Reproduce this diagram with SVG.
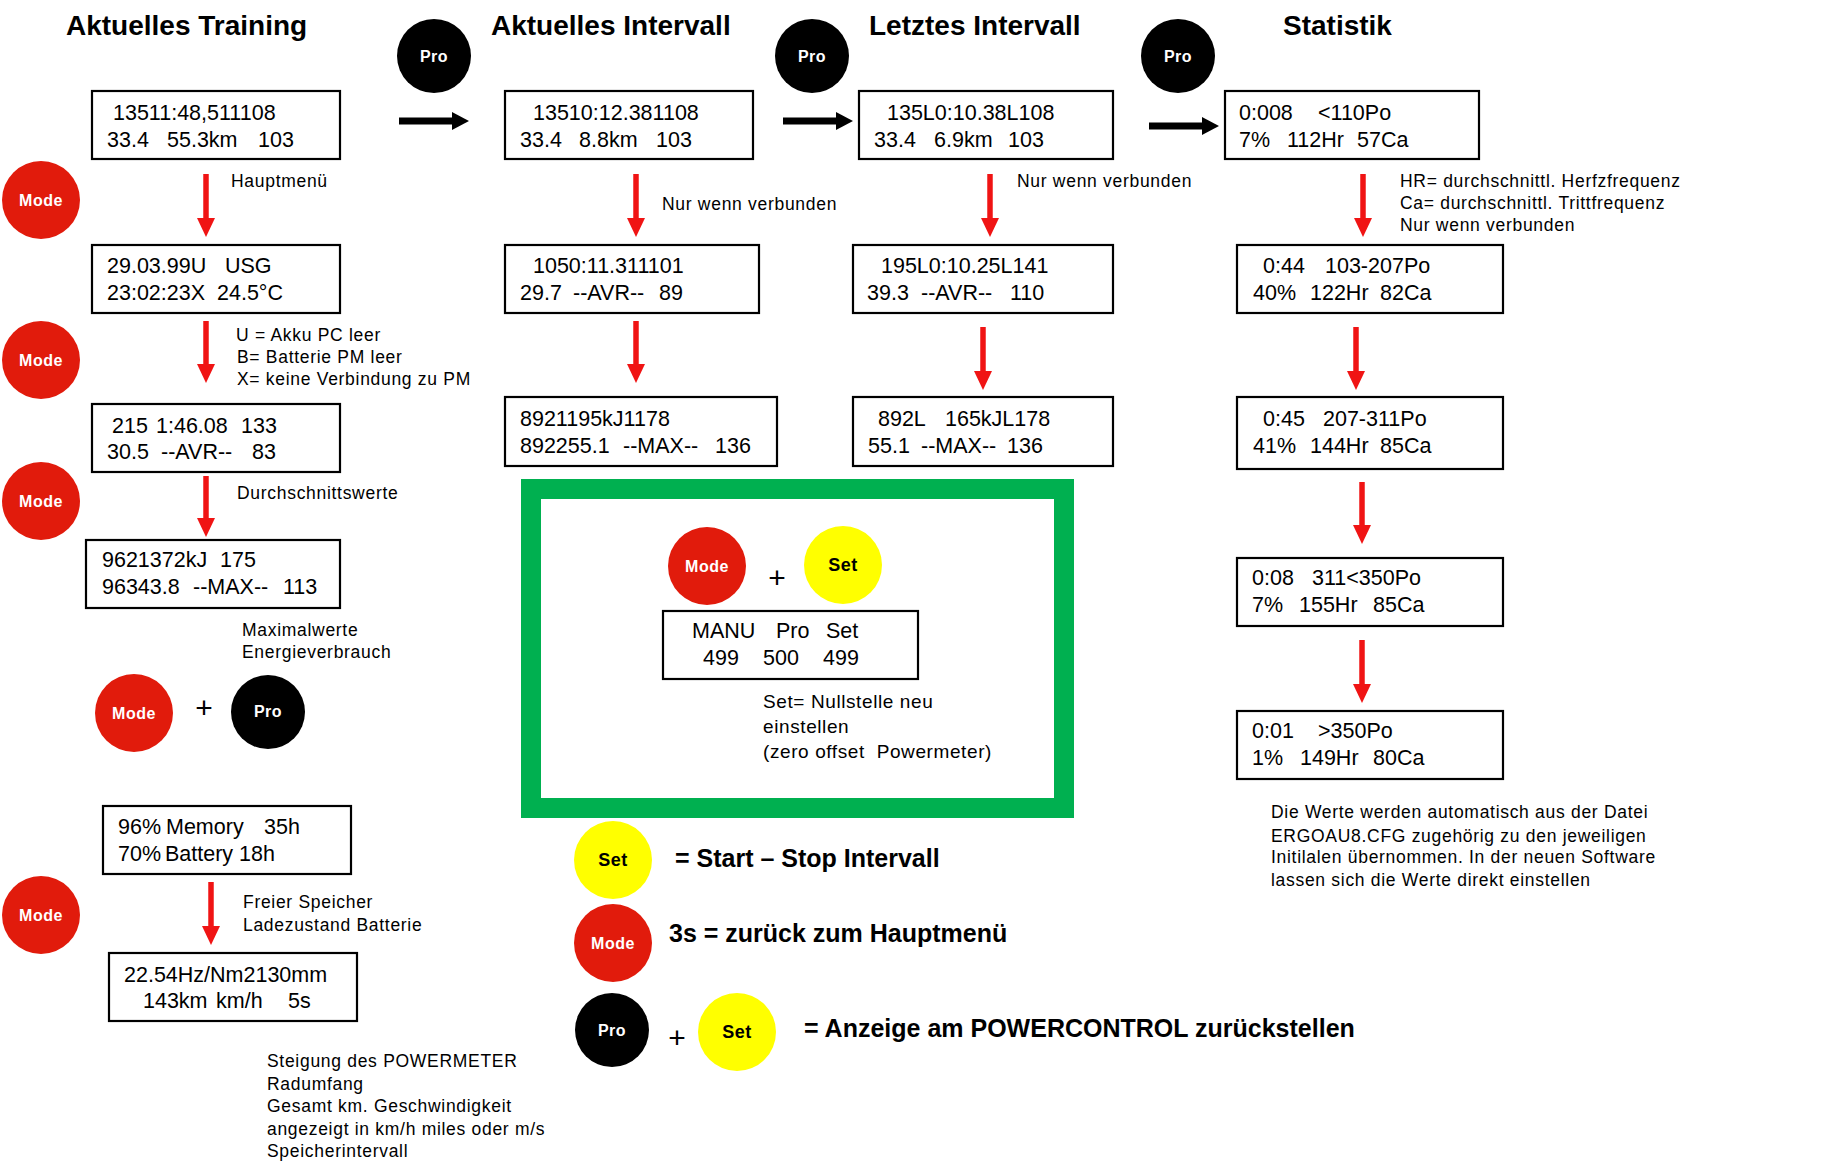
<svg xmlns="http://www.w3.org/2000/svg" width="1835" height="1172" viewBox="0 0 1835 1172">
<defs>
<style>
.bg{fill:#fff}
.box{fill:#fff;stroke:#000;stroke-width:2.2}
.bt{font-family:"Liberation Sans",Arial,sans-serif;font-size:21.5px;fill:#000}
.lbl{font-family:"Liberation Sans",Arial,sans-serif;font-size:17.5px;letter-spacing:0.7px;fill:#000}
.lg{font-size:19px;letter-spacing:0.6px}
.title{font-family:"Liberation Sans",Arial,sans-serif;font-size:28px;font-weight:bold;fill:#000}
.big{font-family:"Liberation Sans",Arial,sans-serif;font-size:25px;font-weight:bold;fill:#000}
.plus{font-family:"Liberation Sans",Arial,sans-serif;font-size:30px;fill:#000;text-anchor:middle}
.mode{fill:#E11B0C}
.pro{fill:#000}
.set{fill:#FFFF00}
.bl{font-family:"Liberation Sans",Arial,sans-serif;font-size:16px;font-weight:bold;text-anchor:middle;letter-spacing:0.5px}
.wl{fill:#fff}
.kl{fill:#000;font-size:18px}
.ra{stroke:#F01414;stroke-width:5.5;fill:none;marker-end:url(#rh)}
.ka{stroke:#000;stroke-width:7;fill:none;marker-end:url(#kh)}
.frame{fill:none;stroke:#00B050;stroke-width:20}
</style>
<marker id="rh" markerUnits="userSpaceOnUse" markerWidth="20" markerHeight="20" refX="0" refY="9" orient="auto" overflow="visible">
<path d="M0,0 L19,9 L0,18 z" fill="#F01414"/>
</marker>
<marker id="kh" markerUnits="userSpaceOnUse" markerWidth="20" markerHeight="20" refX="0" refY="9" orient="auto" overflow="visible">
<path d="M0,0 L17,9 L0,18 z" fill="#000"/>
</marker>
</defs>
<rect class="bg" x="0" y="0" width="1835" height="1172"/>

<g id="titles">
<text class="title" x="66" y="35">Aktuelles Training</text>
<text class="title" x="491" y="35">Aktuelles Intervall</text>
<text class="title" x="869" y="35">Letztes Intervall</text>
<text class="title" x="1283" y="35">Statistik</text>
</g>

<g id="connectors">
<line class="ka" x1="399" y1="121" x2="452" y2="121"/>
<line class="ka" x1="783" y1="121" x2="836" y2="121"/>
<line class="ka" x1="1149" y1="126" x2="1202" y2="126"/>
<line class="ra" x1="206" y1="174" x2="206" y2="218"/>
<line class="ra" x1="206" y1="321" x2="206" y2="364"/>
<line class="ra" x1="206" y1="476" x2="206" y2="518"/>
<line class="ra" x1="211" y1="882" x2="211" y2="926"/>
<line class="ra" x1="636" y1="174" x2="636" y2="218"/>
<line class="ra" x1="636" y1="321" x2="636" y2="364"/>
<line class="ra" x1="990" y1="174" x2="990" y2="218"/>
<line class="ra" x1="983" y1="327" x2="983" y2="371"/>
<line class="ra" x1="1363" y1="174" x2="1363" y2="218"/>
<line class="ra" x1="1356" y1="327" x2="1356" y2="371"/>
<line class="ra" x1="1362" y1="482" x2="1362" y2="525"/>
<line class="ra" x1="1362" y1="640" x2="1362" y2="684"/>
</g>

<g id="btn-pro-1"><circle class="pro" cx="434" cy="56" r="37"/><text class="bl wl" x="434" y="62">Pro</text></g>
<g id="btn-pro-2"><circle class="pro" cx="812" cy="56" r="37"/><text class="bl wl" x="812" y="62">Pro</text></g>
<g id="btn-pro-3"><circle class="pro" cx="1178" cy="56" r="37"/><text class="bl wl" x="1178" y="62">Pro</text></g>

<g id="btn-mode-1"><circle class="mode" cx="41" cy="200" r="39"/><text class="bl wl" x="41" y="206">Mode</text></g>
<g id="btn-mode-2"><circle class="mode" cx="41" cy="360" r="39"/><text class="bl wl" x="41" y="366">Mode</text></g>
<g id="btn-mode-3"><circle class="mode" cx="41" cy="501" r="39"/><text class="bl wl" x="41" y="507">Mode</text></g>
<g id="btn-mode-4"><circle class="mode" cx="41" cy="915" r="39"/><text class="bl wl" x="41" y="921">Mode</text></g>

<g id="combo-mode-pro">
<circle class="mode" cx="134" cy="713" r="39"/><text class="bl wl" x="134" y="719">Mode</text>
<text class="plus" x="204" y="718">+</text>
<circle class="pro" cx="268" cy="712" r="37"/><text class="bl wl" x="268" y="717">Pro</text>
</g>

<g id="at-1">
<rect class="box" x="92" y="91" width="248" height="68"/>
<text class="bt" x="113" y="120">13511:48,511108</text>
<text class="bt" y="147"><tspan x="107">33.4</tspan><tspan x="167">55.3km</tspan><tspan x="258">103</tspan></text>
</g>
<g id="at-2">
<rect class="box" x="92" y="245" width="248" height="68"/>
<text class="bt" y="273"><tspan x="107">29.03.99U</tspan><tspan x="225">USG</tspan></text>
<text class="bt" y="300"><tspan x="107">23:02:23X</tspan><tspan x="217">24.5°C</tspan></text>
</g>
<g id="at-3">
<rect class="box" x="92" y="404" width="248" height="68"/>
<text class="bt" y="433"><tspan x="112">215</tspan><tspan x="156">1:46.08</tspan><tspan x="241">133</tspan></text>
<text class="bt" y="459"><tspan x="107">30.5</tspan><tspan x="161">--AVR--</tspan><tspan x="252">83</tspan></text>
</g>
<g id="at-4">
<rect class="box" x="86" y="540" width="254" height="68"/>
<text class="bt" y="567"><tspan x="102">9621372kJ</tspan><tspan x="220">175</tspan></text>
<text class="bt" y="594"><tspan x="102">96343.8</tspan><tspan x="193">--MAX--</tspan><tspan x="283">113</tspan></text>
</g>
<g id="at-5">
<rect class="box" x="103" y="806" width="248" height="68"/>
<text class="bt" y="834"><tspan x="118">96%</tspan><tspan x="166">Memory</tspan><tspan x="264">35h</tspan></text>
<text class="bt" y="861"><tspan x="118">70%</tspan><tspan x="165">Battery</tspan><tspan x="239">18h</tspan></text>
</g>
<g id="at-6">
<rect class="box" x="109" y="953" width="248" height="68"/>
<text class="bt" x="124" y="982">22.54Hz/Nm2130mm</text>
<text class="bt" y="1008"><tspan x="143">143km</tspan><tspan x="216">km/h</tspan><tspan x="288">5s</tspan></text>
</g>

<g id="labels-training">
<text class="lbl" x="231" y="187">Hauptmenü</text>
<text class="lbl" x="236" y="341">U = Akku PC leer</text>
<text class="lbl" x="237" y="363">B= Batterie PM leer</text>
<text class="lbl" x="237" y="385">X= keine Verbindung zu PM</text>
<text class="lbl" x="237" y="499">Durchschnittswerte</text>
<text class="lbl" x="242" y="636">Maximalwerte</text>
<text class="lbl" x="242" y="658">Energieverbrauch</text>
<text class="lbl" x="243" y="908">Freier Speicher</text>
<text class="lbl" x="243" y="931">Ladezustand Batterie</text>
<text class="lbl" x="267" y="1067">Steigung des POWERMETER</text>
<text class="lbl" x="267" y="1090">Radumfang</text>
<text class="lbl" x="267" y="1112">Gesamt km. Geschwindigkeit</text>
<text class="lbl" x="267" y="1135">angezeigt in km/h miles oder m/s</text>
<text class="lbl" x="267" y="1157">Speicherintervall</text>
</g>

<g id="ai-1">
<rect class="box" x="505" y="91" width="248" height="68"/>
<text class="bt" x="533" y="120">13510:12.381108</text>
<text class="bt" y="147"><tspan x="520">33.4</tspan><tspan x="579">8.8km</tspan><tspan x="656">103</tspan></text>
</g>
<g id="ai-2">
<rect class="box" x="505" y="245" width="254" height="68"/>
<text class="bt" x="533" y="273">1050:11.311101</text>
<text class="bt" y="300"><tspan x="520">29.7</tspan><tspan x="573">--AVR--</tspan><tspan x="659">89</tspan></text>
</g>
<g id="ai-3">
<rect class="box" x="505" y="397" width="272" height="69"/>
<text class="bt" x="520" y="426">8921195kJ1178</text>
<text class="bt" y="453"><tspan x="520">892255.1</tspan><tspan x="623">--MAX--</tspan><tspan x="715">136</tspan></text>
</g>
<text class="lbl" x="662" y="210">Nur wenn verbunden</text>

<g id="zero-offset">
<rect class="frame" x="531" y="489" width="533" height="319"/>
<circle class="mode" cx="707" cy="566" r="39"/><text class="bl wl" x="707" y="572">Mode</text>
<text class="plus" x="777" y="588">+</text>
<circle class="set" cx="843" cy="565" r="39"/><text class="bl kl" x="843" y="571">Set</text>
<rect class="box" x="663" y="611" width="255" height="68"/>
<text class="bt" y="638"><tspan x="692">MANU</tspan><tspan x="776">Pro</tspan><tspan x="826">Set</tspan></text>
<text class="bt" y="665"><tspan x="703">499</tspan><tspan x="763">500</tspan><tspan x="823">499</tspan></text>
<text class="lbl lg" x="763" y="708">Set= Nullstelle neu</text>
<text class="lbl lg" x="763" y="733">einstellen</text>
<text class="lbl lg" x="763" y="758" xml:space="preserve">(zero offset  Powermeter)</text>
</g>

<g id="legend-set">
<circle class="set" cx="613" cy="860" r="39"/><text class="bl kl" x="613" y="866">Set</text>
<text class="big" x="675" y="867">= Start – Stop Intervall</text>
</g>
<g id="legend-mode">
<circle class="mode" cx="613" cy="943" r="39"/><text class="bl wl" x="613" y="949">Mode</text>
<text class="big" x="669" y="942">3s = zurück zum Hauptmenü</text>
</g>
<g id="legend-pro-set">
<circle class="pro" cx="612" cy="1030" r="37"/><text class="bl wl" x="612" y="1036">Pro</text>
<text class="plus" x="677" y="1048">+</text>
<circle class="set" cx="737" cy="1032" r="39"/><text class="bl kl" x="737" y="1038">Set</text>
<text class="big" x="804" y="1037">= Anzeige am POWERCONTROL zurückstellen</text>
</g>

<g id="li-1">
<rect class="box" x="859" y="91" width="254" height="68"/>
<text class="bt" x="887" y="120">135L0:10.38L108</text>
<text class="bt" y="147"><tspan x="874">33.4</tspan><tspan x="934">6.9km</tspan><tspan x="1008">103</tspan></text>
</g>
<g id="li-2">
<rect class="box" x="853" y="245" width="260" height="68"/>
<text class="bt" x="881" y="273">195L0:10.25L141</text>
<text class="bt" y="300"><tspan x="867">39.3</tspan><tspan x="921">--AVR--</tspan><tspan x="1010">110</tspan></text>
</g>
<g id="li-3">
<rect class="box" x="853" y="397" width="260" height="69"/>
<text class="bt" y="426"><tspan x="878">892L</tspan><tspan x="945">165kJL178</tspan></text>
<text class="bt" y="453"><tspan x="868">55.1</tspan><tspan x="921">--MAX--</tspan><tspan x="1007">136</tspan></text>
</g>
<text class="lbl" x="1017" y="187">Nur wenn verbunden</text>

<g id="st-1">
<rect class="box" x="1225" y="91" width="254" height="68"/>
<text class="bt" y="120"><tspan x="1239">0:008</tspan><tspan x="1318">&lt;110Po</tspan></text>
<text class="bt" y="147"><tspan x="1239">7%</tspan><tspan x="1287">112Hr</tspan><tspan x="1357">57Ca</tspan></text>
</g>
<g id="st-2">
<rect class="box" x="1237" y="245" width="266" height="68"/>
<text class="bt" y="273"><tspan x="1263">0:44</tspan><tspan x="1325">103-207Po</tspan></text>
<text class="bt" y="300"><tspan x="1253">40%</tspan><tspan x="1310">122Hr</tspan><tspan x="1380">82Ca</tspan></text>
</g>
<g id="st-3">
<rect class="box" x="1237" y="397" width="266" height="72"/>
<text class="bt" y="426"><tspan x="1263">0:45</tspan><tspan x="1323">207-311Po</tspan></text>
<text class="bt" y="453"><tspan x="1253">41%</tspan><tspan x="1310">144Hr</tspan><tspan x="1380">85Ca</tspan></text>
</g>
<g id="st-4">
<rect class="box" x="1237" y="558" width="266" height="68"/>
<text class="bt" y="585"><tspan x="1252">0:08</tspan><tspan x="1312">311&lt;350Po</tspan></text>
<text class="bt" y="612"><tspan x="1252">7%</tspan><tspan x="1299">155Hr</tspan><tspan x="1373">85Ca</tspan></text>
</g>
<g id="st-5">
<rect class="box" x="1237" y="711" width="266" height="68"/>
<text class="bt" y="738"><tspan x="1252">0:01</tspan><tspan x="1318">&gt;350Po</tspan></text>
<text class="bt" y="765"><tspan x="1252">1%</tspan><tspan x="1300">149Hr</tspan><tspan x="1373">80Ca</tspan></text>
</g>

<g id="labels-statistik">
<text class="lbl" x="1400" y="187">HR= durchschnittl. Herfzfrequenz</text>
<text class="lbl" x="1400" y="209">Ca= durchschnittl. Trittfrequenz</text>
<text class="lbl" x="1400" y="231">Nur wenn verbunden</text>
<text class="lbl" x="1271" y="818">Die Werte werden automatisch aus der Datei</text>
<text class="lbl" x="1271" y="842">ERGOAU8.CFG zugehörig zu den jeweiligen</text>
<text class="lbl" x="1271" y="863">Initilalen übernommen. In der neuen Software</text>
<text class="lbl" x="1271" y="886">lassen sich die Werte direkt einstellen</text>
</g>
</svg>
